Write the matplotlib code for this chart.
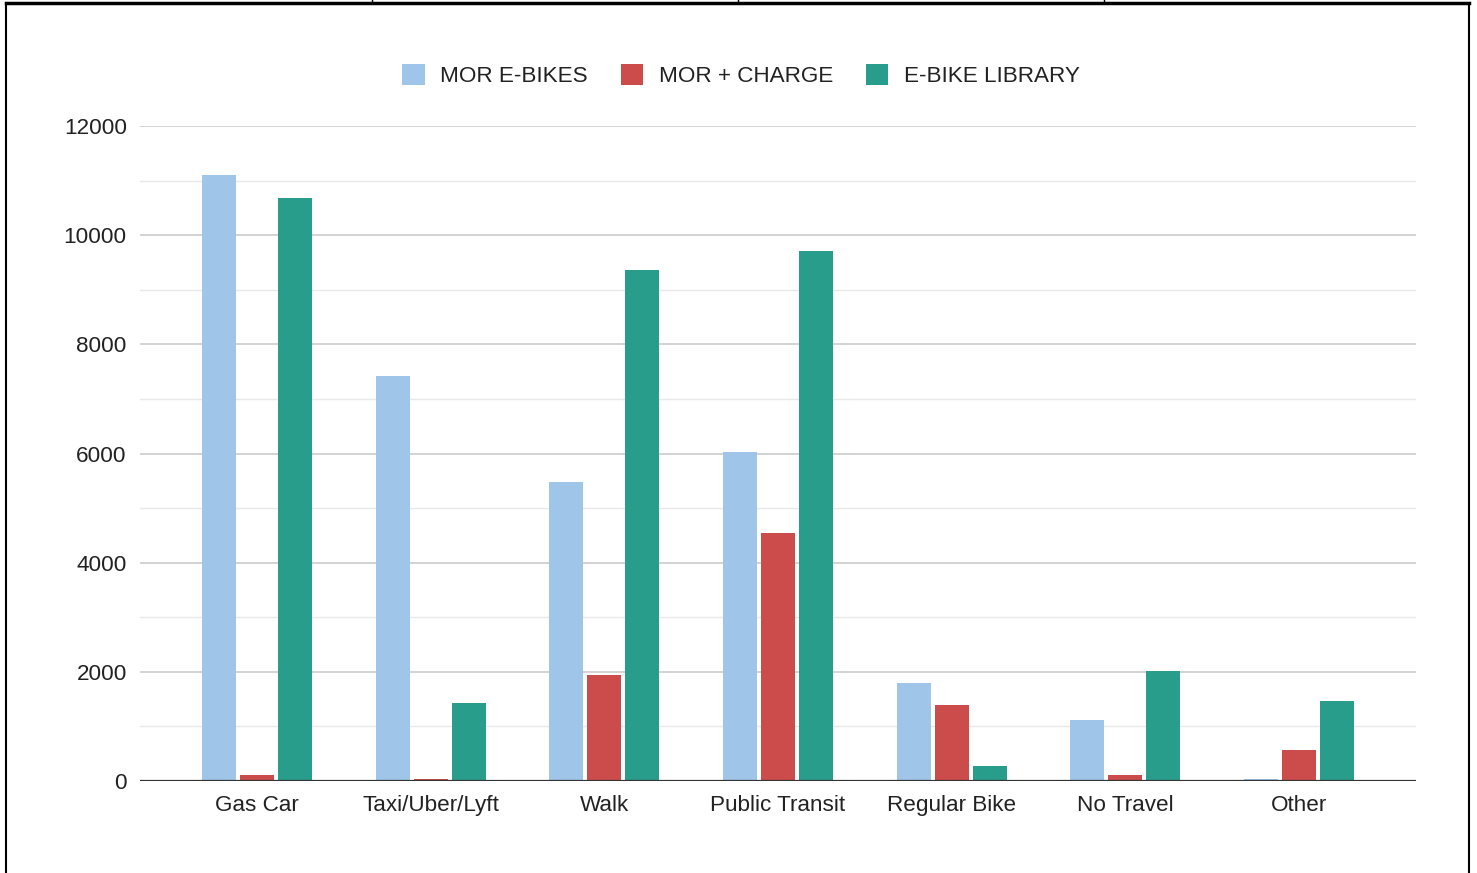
import numpy as np
import matplotlib.pyplot as plt
from matplotlib.lines import Line2D

plt.rcParams['font.family'] = ['Liberation Sans', 'DejaVu Sans']

# Data
categories = ["Gas Car", "Taxi/Uber/Lyft", "Walk", "Public Transit", "Regular Bike", "No Travel", "Other"]
series_names = ["MOR E-BIKES", "MOR + CHARGE", "E-BIKE LIBRARY"]
mor_ebikes = [11100, 7420, 5480, 6030, 1800, 1120, 30]
mor_charge = [110, 30, 1940, 4540, 1390, 110, 570]
ebike_library = [10680, 1430, 9360, 9710, 275, 2015, 1465]
colors = ["#9fc5e8", "#cc4b4b", "#299d8c"]

fig = plt.figure(figsize=(14.77, 8.73), dpi=100)
ax = fig.add_axes([140/1477, 1 - 781/873, (1416-140)/1477, (781-126)/873])

x = np.arange(len(categories))
w = 0.196
off = 0.219
for i, (vals, col, name) in enumerate(zip([mor_ebikes, mor_charge, ebike_library], colors, series_names)):
    ax.bar(x + (i - 1) * off, vals, width=w, color=col, label=name, zorder=3)

ax.set_xlim(-0.673, len(categories) - 1 + 0.673)
ax.set_ylim(0, 12000)
ax.set_yticks(np.arange(0, 12001, 2000))
ax.set_yticks(np.arange(1000, 12000, 2000), minor=True)
ax.grid(axis='y', which='major', color='#cccccc', lw=1.2, zorder=0)
ax.grid(axis='y', which='minor', color='#e8e8e8', lw=1, zorder=0)
ax.axhline(0, color='#333333', lw=1.6, zorder=4)
ax.set_xticks(x)
ax.set_xticklabels(categories)
ax.tick_params(axis='both', which='both', length=0, labelsize=16.2, colors='#222222')
ax.tick_params(axis='x', pad=10)
ax.tick_params(axis='y', pad=9.5)
for s in ax.spines.values():
    s.set_visible(False)

# legend is centred on the figure, not the axes
ax.legend(loc='upper center', bbox_to_anchor=(0.471, 1.125), ncol=3, frameon=False,
          fontsize=16.2, handlelength=1.0, handleheight=1.0, columnspacing=1.45, handletextpad=0.7,
          labelcolor='#222222')

# sheet borders
lc = 'black'
fig.add_artist(Line2D([6/1477, 6/1477], [0, 1 - 3/873], transform=fig.transFigure, color=lc, lw=1.5))
fig.add_artist(Line2D([1469/1477, 1469/1477], [0, 1 - 3/873], transform=fig.transFigure, color=lc, lw=1.5))
fig.add_artist(Line2D([6/1477, 1469/1477], [1 - 3/873, 1 - 3/873], transform=fig.transFigure, color=lc, lw=2.5))
for xp in [372, 738, 1104]:
    fig.add_artist(Line2D([xp/1477, xp/1477], [1 - 3/873, 1], transform=fig.transFigure, color=lc, lw=1))

fig.savefig("out.png", dpi=100)
